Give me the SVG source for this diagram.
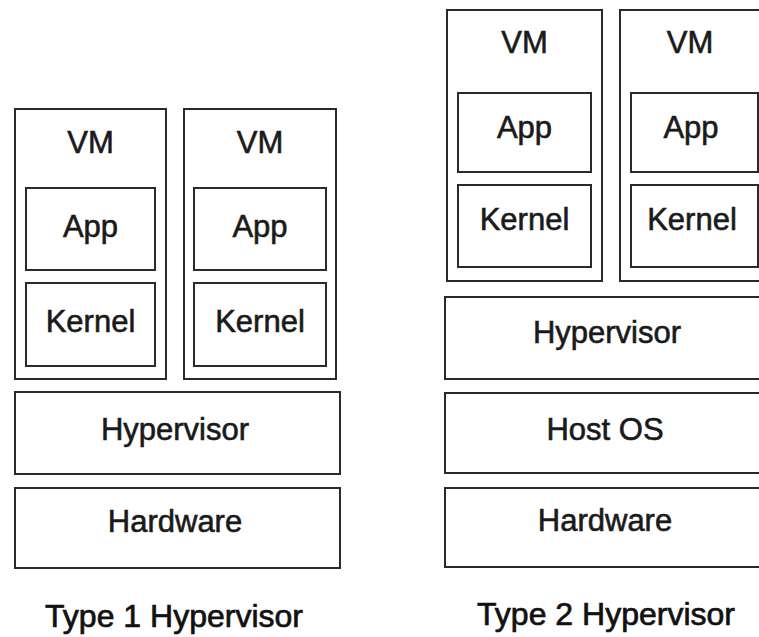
<svg xmlns="http://www.w3.org/2000/svg" width="759" height="637" viewBox="0 0 759 637">
<style>
  .box { fill: #ffffff; stroke: #2a2a2a; stroke-width: 2; }
  .lbl { font-family: "Liberation Sans", Arial, Helvetica, sans-serif; font-size: 31px; fill: #1a1a1a; text-anchor: middle; stroke: #1a1a1a; stroke-width: 0.6; }
  .ttl { font-family: "Liberation Sans", Arial, Helvetica, sans-serif; font-size: 32px; fill: #111111; text-anchor: middle; stroke: #111111; stroke-width: 0.7; }
</style>
<rect width="759" height="637" fill="#ffffff"/>
<g id="connectors"></g>

<!-- Type 1 -->
<g id="t1-vm1">
  <rect class="box" x="15" y="109" width="151" height="270"/>
  <text class="lbl" x="90.5" y="153">VM</text>
</g>
<g id="t1-app1">
  <rect class="box" x="26" y="188" width="129" height="82"/>
  <text class="lbl" x="90.5" y="237">App</text>
</g>
<g id="t1-kernel1">
  <rect class="box" x="26" y="283" width="129" height="83"/>
  <text class="lbl" x="90.5" y="332">Kernel</text>
</g>
<g id="t1-vm2">
  <rect class="box" x="184" y="109" width="152" height="270"/>
  <text class="lbl" x="260" y="153">VM</text>
</g>
<g id="t1-app2">
  <rect class="box" x="194" y="188" width="132" height="82"/>
  <text class="lbl" x="260" y="237">App</text>
</g>
<g id="t1-kernel2">
  <rect class="box" x="194" y="283" width="132" height="83"/>
  <text class="lbl" x="260" y="332">Kernel</text>
</g>
<g id="t1-hypervisor">
  <rect class="box" x="15" y="392" width="325" height="82"/>
  <text class="lbl" x="175" y="440">Hypervisor</text>
</g>
<g id="t1-hardware">
  <rect class="box" x="15" y="488" width="325" height="80"/>
  <text class="lbl" x="175" y="532">Hardware</text>
</g>
<g id="t1-title">
  <text class="ttl" x="174" y="627">Type 1 Hypervisor</text>
</g>

<!-- Type 2 -->
<g id="t2-vm1">
  <rect class="box" x="447" y="10" width="155" height="271"/>
  <text class="lbl" x="524.5" y="53">VM</text>
</g>
<g id="t2-app1">
  <rect class="box" x="458" y="93" width="133" height="79"/>
  <text class="lbl" x="524.5" y="138">App</text>
</g>
<g id="t2-kernel1">
  <rect class="box" x="458" y="185" width="133" height="82"/>
  <text class="lbl" x="524.5" y="230">Kernel</text>
</g>
<g id="t2-vm2">
  <rect class="box" x="620" y="10" width="160" height="271"/>
  <text class="lbl" x="690" y="53">VM</text>
</g>
<g id="t2-app2">
  <rect class="box" x="631" y="93" width="127" height="79"/>
  <text class="lbl" x="691" y="138">App</text>
</g>
<g id="t2-kernel2">
  <rect class="box" x="631" y="185" width="127" height="82"/>
  <text class="lbl" x="692" y="230">Kernel</text>
</g>
<g id="t2-hypervisor">
  <rect class="box" x="445" y="297" width="330" height="82"/>
  <text class="lbl" x="607" y="343">Hypervisor</text>
</g>
<g id="t2-hostos">
  <rect class="box" x="445" y="393" width="330" height="80"/>
  <text class="lbl" x="605" y="440">Host OS</text>
</g>
<g id="t2-hardware">
  <rect class="box" x="445" y="488" width="330" height="79"/>
  <text class="lbl" x="605" y="531">Hardware</text>
</g>
<g id="t2-title">
  <text class="ttl" x="606" y="625">Type 2 Hypervisor</text>
</g>
</svg>
